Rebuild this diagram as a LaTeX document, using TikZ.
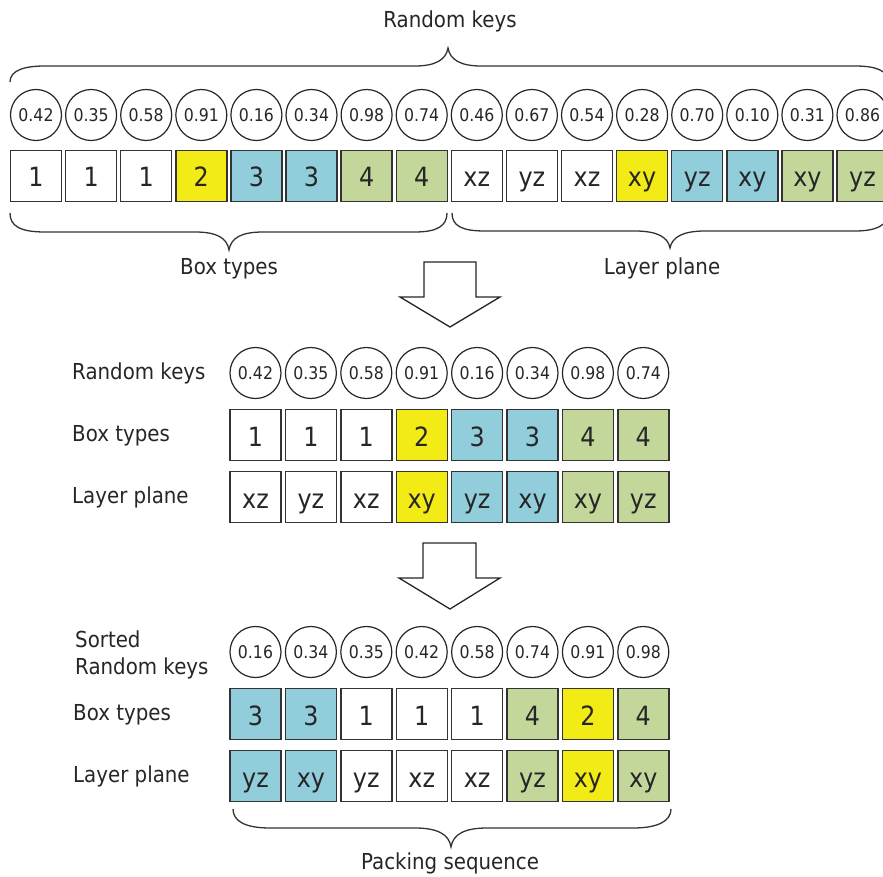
\documentclass[tikz,border=0pt]{standalone}
\usepackage{fontspec}
\setmainfont[FakeStretch=0.9]{DejaVu Sans}
\begin{document}
\begin{tikzpicture}[x=1pt,y=-1pt,
  lbl/.style={font=\fontsize{22}{26}\selectfont, text=black!85, inner sep=0pt, text height=16pt, text depth=0pt},
  keyc/.style={circle, draw=black!85, line width=1.2pt, minimum size=51pt, inner sep=0pt, font=\fontsize{17.5}{20}\selectfont, text=black!85},
  cell/.style={draw=black!80, line width=1.4pt, minimum width=51pt, minimum height=51pt, inner sep=0pt, font=\fontsize{26.5}{30}\selectfont, text=black!85, text height=22pt, text depth=0pt},
  brace/.style={draw=black!80, line width=1.3pt},
  bigarrow/.style={draw=black!85, line width=1.3pt, fill=white, line join=miter}]
\definecolor{cw}{HTML}{FFFFFF}
\definecolor{cy}{HTML}{F2EB16}
\definecolor{cb}{HTML}{92CDDC}
\definecolor{cg}{HTML}{C4D79B}
\useasboundingbox (0,0) rectangle (883,877);

% ---- top row ----
\node[lbl] (toplbl) at (450,20) {Random keys};
\foreach \k/\t/\c [count=\i from 0] in {0.42/1/cw,0.35/1/cw,0.58/1/cw,0.91/2/cy,0.16/3/cb,0.34/3/cb,0.98/4/cg,0.74/4/cg,0.46/xz/cw,0.67/yz/cw,0.54/xz/cw,0.28/xy/cy,0.70/yz/cb,0.10/xy/cb,0.31/xy/cg,0.86/yz/cg}{
  \node[keyc] (tk\i) at ({36+55.1*\i},115) {\k};
  \node[cell, fill=\c] (tb\i) at ({36+55.1*\i},176) {\t};
}
\draw[brace] (10,82) .. controls (10,70) and (25,66) .. (45,66) -- (415,66) .. controls (435,66) and (446,60) .. (448,48)
  .. controls (450,60) and (461,66) .. (481,66) -- (855,66) .. controls (875,66) and (888,70) .. (888,82);
\draw[brace] (10,213) .. controls (10,226) and (20,232) .. (45,232) -- (195,232) .. controls (217,232) and (227,238) .. (229,250)
  .. controls (231,238) and (241,232) .. (263,232) -- (415,232) .. controls (437,232) and (447,226) .. (447,213);
\draw[brace] (452,213) .. controls (452,226) and (462,231) .. (485,231) -- (635,231) .. controls (657,231) and (668,237) .. (670,248)
  .. controls (672,237) and (683,231) .. (705,231) -- (855,231) .. controls (875,231) and (888,226) .. (888,213);
\node[lbl] (bt) at (229,267) {Box types};
\node[lbl] (lp) at (662,266) {Layer plane};

\draw[bigarrow] (424,262) -- (476,262) -- (476,297) -- (500,297) -- (450,327) -- (400,297) -- (424,297) -- cycle;

% ---- middle ----
\node[lbl, anchor=west] (mrk) at (72,371) {Random keys};
\node[lbl, anchor=west] (mbt) at (72,433) {Box types};
\node[lbl, anchor=west] (mlp) at (72,495) {Layer plane};
\foreach \k/\t/\tc/\p/\pc [count=\i from 0] in {0.42/1/cw/xz/cw,0.35/1/cw/yz/cw,0.58/1/cw/xz/cw,0.91/2/cy/xy/cy,0.16/3/cb/yz/cb,0.34/3/cb/xy/cb,0.98/4/cg/xy/cg,0.74/4/cg/yz/cg}{
  \node[keyc] (mk\i) at ({255.5+55.4*\i},373) {\k};
  \node[cell, fill=\tc] (mb\i) at ({255.5+55.4*\i},435) {\t};
  \node[cell, fill=\pc] (mp\i) at ({255.5+55.4*\i},497) {\p};
}

\draw[bigarrow] (423,543) -- (476,543) -- (476,578) -- (500,578) -- (450,609) -- (399,578) -- (423,578) -- cycle;

% ---- bottom ----
\node[lbl, anchor=west] (bso) at (75,639.5) {Sorted};
\node[lbl, anchor=west] (brk) at (75,666.5) {Random keys};
\node[lbl, anchor=west] (bbt) at (73,712) {Box types};
\node[lbl, anchor=west] (blp) at (73,774) {Layer plane};
\foreach \k/\t/\tc/\p/\pc [count=\i from 0] in {0.16/3/cb/yz/cb,0.34/3/cb/xy/cb,0.35/1/cw/yz/cw,0.42/1/cw/xz/cw,0.58/1/cw/xz/cw,0.74/4/cg/yz/cg,0.91/2/cy/xy/cy,0.98/4/cg/xy/cg}{
  \node[keyc] (sk\i) at ({255.5+55.4*\i},652) {\k};
  \node[cell, fill=\tc] (sb\i) at ({255.5+55.4*\i},714) {\t};
  \node[cell, fill=\pc] (sp\i) at ({255.5+55.4*\i},776) {\p};
}
\draw[brace] (233,809) .. controls (233,821) and (245,828) .. (270,828) -- (415,828) .. controls (437,828) and (449,834) .. (451,847)
  .. controls (453,834) and (465,828) .. (487,828) -- (633,828) .. controls (658,828) and (671,821) .. (671,809);
\node[lbl] (ps) at (450,861.5) {Packing sequence};
\end{tikzpicture}
\end{document}
